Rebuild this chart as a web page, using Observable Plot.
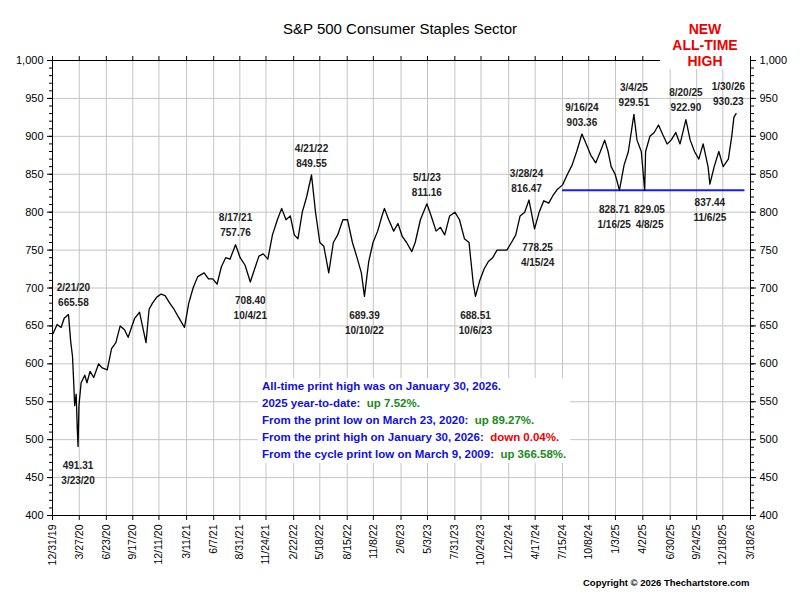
<!DOCTYPE html>
<html><head><meta charset="utf-8">
<script src="https://cdn.jsdelivr.net/npm/d3@7"></script>
<script src="https://cdn.jsdelivr.net/npm/@observablehq/plot@0.6"></script>
<style>
body{margin:0;background:#fff;font-family:"Liberation Sans",Arial,sans-serif}
#wrap{position:relative;width:800px;height:600px}
#title{position:absolute;left:0;width:800px;top:20px;text-align:center;font-size:15px}
#ath{position:absolute;left:660px;width:90px;top:21px;text-align:center;color:#e00;font-weight:bold;font-size:14px;line-height:16px;background:#fff}
#box{position:absolute;left:258px;top:378px;background:#fff;color:#1010dd;font-weight:bold;font-size:11.5px;line-height:17px;padding:0 4px}
.g{color:#1a8a1a}.r{color:#e00}
#copy{position:absolute;left:583px;top:577px;font-size:9.5px;font-weight:bold}
</style></head><body>
<div id="wrap"><div id="chart"></div>
<div id="title">S&amp;P 500 Consumer Staples Sector</div>
<div id="ath">NEW<br>ALL-TIME<br>HIGH</div>
<div id="box">All-time print high was on January 30, 2026.<br>2025 year-to-date: &nbsp;<span class="g">up 7.52%.</span><br>From the print low on March 23, 2020: &nbsp;<span class="g">up 89.27%.</span><br>From the print high on January 30, 2026: &nbsp;<span class="r">down 0.04%.</span><br>From the cycle print low on March 9, 2009: &nbsp;<span class="g">up 366.58%.</span></div>
<div id="copy">Copyright © 2026 Thechartstore.com</div>
</div>
<script>
const dates = ["2020-01-02","2020-01-15","2020-01-28","2020-02-07","2020-02-21","2020-02-28","2020-03-05","2020-03-09","2020-03-12","2020-03-17","2020-03-20","2020-03-23","2020-03-26","2020-04-02","2020-04-14","2020-04-21","2020-05-01","2020-05-13","2020-05-29","2020-06-08","2020-06-26","2020-07-10","2020-07-24","2020-08-07","2020-08-21","2020-09-02","2020-09-23","2020-10-09","2020-10-30","2020-11-09","2020-11-20","2020-12-04","2020-12-18","2020-12-31","2021-01-15","2021-01-29","2021-02-12","2021-03-04","2021-03-18","2021-04-01","2021-04-16","2021-05-07","2021-05-21","2021-06-04","2021-06-18","2021-07-02","2021-07-16","2021-07-30","2021-08-17","2021-09-01","2021-09-17","2021-10-04","2021-10-18","2021-11-01","2021-11-15","2021-11-30","2021-12-15","2021-12-31","2022-01-14","2022-01-28","2022-02-11","2022-02-24","2022-03-08","2022-03-22","2022-04-05","2022-04-21","2022-05-04","2022-05-18","2022-05-31","2022-06-16","2022-07-01","2022-07-15","2022-08-01","2022-08-16","2022-09-01","2022-09-16","2022-09-30","2022-10-10","2022-10-24","2022-11-07","2022-11-22","2022-12-06","2022-12-14","2022-12-28","2023-01-13","2023-01-27","2023-02-10","2023-02-24","2023-03-13","2023-03-24","2023-04-10","2023-05-01","2023-05-15","2023-05-31","2023-06-14","2023-06-28","2023-07-14","2023-07-31","2023-08-15","2023-08-31","2023-09-15","2023-09-29","2023-10-06","2023-10-20","2023-11-03","2023-11-17","2023-12-01","2023-12-15","2023-12-29","2024-01-16","2024-01-31","2024-02-14","2024-02-28","2024-03-14","2024-03-28","2024-04-15","2024-04-30","2024-05-15","2024-05-31","2024-06-14","2024-06-28","2024-07-15","2024-07-31","2024-08-15","2024-08-30","2024-09-16","2024-09-30","2024-10-15","2024-10-31","2024-11-15","2024-11-29","2024-12-10","2024-12-20","2025-01-02","2025-01-16","2025-01-31","2025-02-14","2025-03-04","2025-03-14","2025-03-28","2025-04-08","2025-04-11","2025-04-25","2025-05-09","2025-05-23","2025-06-06","2025-06-20","2025-07-03","2025-07-18","2025-08-01","2025-08-20","2025-09-03","2025-09-17","2025-10-01","2025-10-15","2025-10-31","2025-11-06","2025-11-20","2025-12-05","2025-12-19","2026-01-05","2026-01-16","2026-01-23","2026-01-30"];
const closes = [640,652,648,660,665,630,610,575,545,560,520,491,545,575,585,575,590,582,600,595,592,620,628,650,645,635,660,668,628,672,680,688,692,690,680,672,662,648,680,700,715,720,712,712,705,728,740,738,757,740,730,708,725,742,745,738,770,790,805,790,795,770,765,800,820,849,800,760,755,720,760,770,790,790,760,740,720,689,735,760,775,795,805,790,775,785,768,760,748,760,790,811,795,775,780,770,795,800,790,765,760,705,689,710,725,735,740,750,750,750,760,770,795,800,816,778,800,815,812,822,830,836,850,862,880,903,890,875,865,880,895,880,860,850,829,862,880,929,895,880,829,880,900,905,915,902,890,895,905,890,922,895,880,870,890,860,837,860,880,860,870,900,925,930];
const yTicks = [400,450,500,550,600,650,700,750,800,850,900,950,1000];
const xTickLabels = ["12/31/19","3/27/20","6/23/20","9/17/20","12/11/20","3/11/21","6/7/21","8/31/21","11/24/21","2/22/22","5/18/22","8/15/22","11/8/22","2/6/23","5/3/23","7/31/23","10/24/23","1/22/24","4/17/24","7/15/24","10/8/24","1/3/25","4/2/25","6/30/25","9/24/25","12/18/25","3/18/26"];
const annDates = ["2020-03-08","2020-03-23","2021-08-17","2021-10-04","2022-04-21","2022-10-10","2023-05-01","2023-10-06","2024-03-20","2024-04-25","2024-09-16","2024-12-30","2025-03-04","2025-04-24","2025-08-20","2025-11-06","2026-01-05"];
const annValues = [665.58,491.31,757.76,708.40,849.55,689.39,811.16,688.51,816.47,778.25,903.36,828.71,929.51,829.05,922.90,837.44,930.23];
const annLabels = ["2/21/20\n665.58","491.31\n3/23/20","8/17/21\n757.76","708.40\n10/4/21","4/21/22\n849.55","689.39\n10/10/22","5/1/23\n811.16","688.51\n10/6/23","3/28/24\n816.47","778.25\n4/15/24","9/16/24\n903.36","828.71\n1/16/25","3/4/25\n929.51","829.05\n4/8/25","8/20/25\n922.90","837.44\n11/6/25","1/30/26\n930.23"];
const annAbove = [true,false,true,false,true,false,true,false,true,false,true,false,true,false,true,false,true];
const supportLevel = 829;
const supportRange = ["2024-07-15","2026-02-28"];

const P = d3.timeParse("%Y-%m-%d");
const tp = d3.timeParse("%m/%d/%y");
const data = dates.map((d,i)=>({date:P(d),v:closes[i]}));
const xt = xTickLabels.map(tp);
const ann = annDates.map((d,i)=>({date:P(d),v:annValues[i],t:annLabels[i],up:annAbove[i]}));
const minor = d3.range(400,1001,10);
const fmt = d => d3.format(",")(d);
const blank = () => "";

const chart = Plot.plot({
  width:800,height:600,marginLeft:52,marginRight:50,marginTop:60,marginBottom:85,
  style:{fontFamily:"Liberation Sans, Arial, sans-serif",fontSize:"11px",color:"#000"},
  x:{type:"time",domain:[xt[0],xt[xt.length-1]]},
  y:{domain:[400,1000]},
  marks:[
    Plot.gridX(xt,{stroke:"#c4c4c4",strokeOpacity:1}),
    Plot.gridY(yTicks,{stroke:"#c4c4c4",strokeOpacity:1}),
    Plot.axisY({ticks:minor,anchor:"left",tickFormat:blank,tickSize:3,label:null}),
    Plot.axisY({ticks:minor,anchor:"right",tickFormat:blank,tickSize:3,label:null}),
    Plot.axisY({ticks:yTicks,anchor:"left",tickFormat:fmt,tickSize:5,fontSize:11,label:null}),
    Plot.axisY({ticks:yTicks,anchor:"right",tickFormat:fmt,tickSize:5,fontSize:11,label:null}),
    Plot.axisX({ticks:xt,tickFormat:d3.timeFormat("%-m/%-d/%y"),tickRotate:-90,tickSize:5,fontSize:10.5,tickPadding:4,label:null}),
    Plot.axisX({ticks:xt,anchor:"top",tickFormat:blank,tickSize:5,label:null}),
    Plot.frame({stroke:"#000"}),
    Plot.ruleY([supportLevel],{x1:P(supportRange[0]),x2:P(supportRange[1]),stroke:"#1a1aff",strokeWidth:2}),
    Plot.line(data,{x:"date",y:"v",stroke:"#000",strokeWidth:1.3}),
    Plot.text(ann.filter(a=>a.up),{x:"date",y:"v",text:"t",lineAnchor:"bottom",dy:-8,fontSize:10,fontWeight:"bold",fill:"#222",lineHeight:1.5}),
    Plot.text(ann.filter(a=>!a.up),{x:"date",y:"v",text:"t",lineAnchor:"top",dy:12,fontSize:10,fontWeight:"bold",fill:"#222",lineHeight:1.5})
  ]
});
document.getElementById("chart").appendChild(chart);
</script></body></html>
